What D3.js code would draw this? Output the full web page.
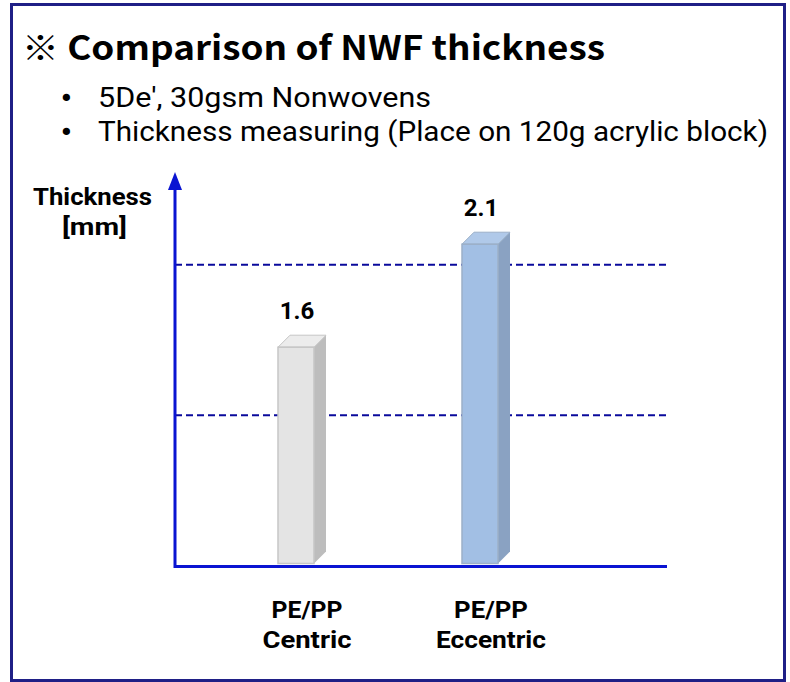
<!DOCTYPE HTML>
<html>
    <head>
        <meta charset="utf-8">
        <style>
            body { margin: 0; background: #fff; }
            text { font-family: "Noto Sans CJK KR", "Noto Sans", sans-serif; fill: #000; }
            .bold { font-family: Roboto, "Noto Sans", sans-serif; font-weight: bold; }
            .bullet { font-family: Roboto, "Noto Sans", sans-serif; }
            .dot { font-family: "DejaVu Sans", sans-serif; }
        </style>
        <script src="https://d3js.org/d3.v7.min.js"></script>
    </head>
    <body>
        <svg width="790" height="682"></svg>
        <script>
            // data
            var categories = ["PE/PP\nCentric", "PE/PP\nEccentric"];
            var values = [1.6, 2.1];
            var valueLabels = ["1.6", "2.1"];
            var gridValues = [1.27, 2.0];
            var bullets = ["5De\u2032, 30gsm Nonwovens", "Thickness measuring (Place on 120g acrylic block)"];

            var svg = d3.select("svg");

            // outer frame
            svg.append("rect")
               .attr("x", 11.5).attr("y", 4.5)
               .attr("width", 773).attr("height", 676)
               .attr("fill", "none")
               .attr("stroke", "#1f1f86")
               .attr("stroke-width", 3);

            svg.append("text")
               .attr("x", 22).attr("y", 60)
               .attr("font-size", "33px")
               .attr("font-weight", "bold")
               .attr("textLength", 583)
               .attr("lengthAdjust", "spacingAndGlyphs")
               .text("\u203B Comparison of NWF thickness");

            var bulletWidths = [333, 670];
            bullets.forEach(function(b, i) {
                svg.append("text")
                   .attr("class", "dot")
                   .attr("x", 59).attr("y", 107 + i * 34)
                   .attr("font-size", "25px")
                   .text("\u2022");
                svg.append("text")
                   .attr("class", "bullet")
                   .attr("x", 98).attr("y", 107 + i * 34)
                   .attr("font-size", "27px")
                   .attr("textLength", bulletWidths[i])
                   .attr("lengthAdjust", "spacingAndGlyphs")
                   .text(b);
            });

            // scales
            var Scale_X = d3.scalePoint().domain(categories).range([296, 480]);
            var Scale_Y = d3.scaleLinear().domain([0.55, 2.35]).range([563.5, 192.7]);
            var barW = 36, depth = 12;
            var axisX = 175, axisY = 566.5, axisRight = 667;

            // dashed grid lines
            svg.selectAll(".grid")
               .data(gridValues)
               .enter().append("line")
               .attr("class", "grid")
               .attr("x1", axisX).attr("x2", axisRight)
               .attr("y1", function(d) { return Scale_Y(d); })
               .attr("y2", function(d) { return Scale_Y(d); })
               .attr("stroke", "#0a0a9c")
               .attr("stroke-width", 2)
               .attr("stroke-dasharray", "7,4");

            var colors = [
                { front: "#e4e4e4", top: "#ececec", side: "#bdbdbd", edge: "#c6c6c6" },
                { front: "#a2bfe4", top: "#b0c9e9", side: "#8aa2c2", edge: "#9cb0c8" }
            ];

            var bars = svg.selectAll(".bar")
               .data(values)
               .enter().append("g")
               .attr("class", "bar");

            // side face
            bars.append("path")
               .attr("fill", function(d, i) { return colors[i].side; })
               .attr("d", function(d, i) {
                   var x = Scale_X(categories[i]) + barW / 2, yt = Scale_Y(d), yb = Scale_Y(0.55);
                   return "M" + x + "," + yt + "L" + (x + depth) + "," + (yt - depth) +
                          "L" + (x + depth) + "," + (yb - depth) + "L" + x + "," + yb + "Z";
               });
            // top face
            bars.append("path")
               .attr("fill", function(d, i) { return colors[i].top; })
               .attr("stroke", function(d, i) { return colors[i].edge; })
               .attr("stroke-width", 1)
               .attr("d", function(d, i) {
                   var x = Scale_X(categories[i]) - barW / 2, yt = Scale_Y(d);
                   return "M" + x + "," + yt + "L" + (x + depth) + "," + (yt - depth) +
                          "L" + (x + barW + depth) + "," + (yt - depth) + "L" + (x + barW) + "," + yt + "Z";
               });
            // front face
            bars.append("rect")
               .attr("x", function(d, i) { return Scale_X(categories[i]) - barW / 2; })
               .attr("y", function(d) { return Scale_Y(d); })
               .attr("width", barW)
               .attr("height", function(d) { return Scale_Y(0.55) - Scale_Y(d); })
               .attr("fill", function(d, i) { return colors[i].front; })
               .attr("stroke", function(d, i) { return colors[i].edge; })
               .attr("stroke-width", 1.5);

            // value labels
            svg.selectAll(".val")
               .data(values)
               .enter().append("text")
               .attr("class", "val bold")
               .attr("x", function(d, i) { return Scale_X(categories[i]) + 1; })
               .attr("y", function(d) { return Scale_Y(d) - 28; })
               .attr("text-anchor", "middle")
               .attr("font-size", "24px")
               .text(function(d, i) { return valueLabels[i]; });

            // axes
            svg.append("line")
               .attr("x1", axisX).attr("x2", axisRight)
               .attr("y1", axisY).attr("y2", axisY)
               .attr("stroke", "#0a14d2").attr("stroke-width", 3);
            svg.append("line")
               .attr("x1", axisX).attr("x2", axisX)
               .attr("y1", axisY + 1.5).attr("y2", 186)
               .attr("stroke", "#0a14d2").attr("stroke-width", 3);
            svg.append("path")
               .attr("d", "M" + axisX + ",172L" + (axisX + 7) + ",190L" + (axisX - 7) + ",190Z")
               .attr("fill", "#0a14d2");

            // axis title
            svg.append("text")
               .attr("class", "bold")
               .attr("x", 33).attr("y", 205)
               .attr("font-size", "24px")
               .attr("textLength", 119)
               .attr("lengthAdjust", "spacingAndGlyphs")
               .text("Thickness");
            svg.append("text")
               .attr("class", "bold")
               .attr("x", 62).attr("y", 235)
               .attr("font-size", "24px")
               .attr("textLength", 65)
               .attr("lengthAdjust", "spacingAndGlyphs")
               .text("[mm]");

            // category labels
            var lineWidths = [[71, 89], [74, 110]];
            categories.forEach(function(c, i) {
                c.split("\n").forEach(function(line, j) {
                    svg.append("text")
                       .attr("class", "bold")
                       .attr("x", Scale_X(c) + 11 - lineWidths[i][j] / 2)
                       .attr("y", 618 + j * 30)
                       .attr("font-size", "24px")
                       .attr("textLength", lineWidths[i][j])
                       .attr("lengthAdjust", "spacingAndGlyphs")
                       .text(line);
                });
            });
        </script>
    </body>
</html>
